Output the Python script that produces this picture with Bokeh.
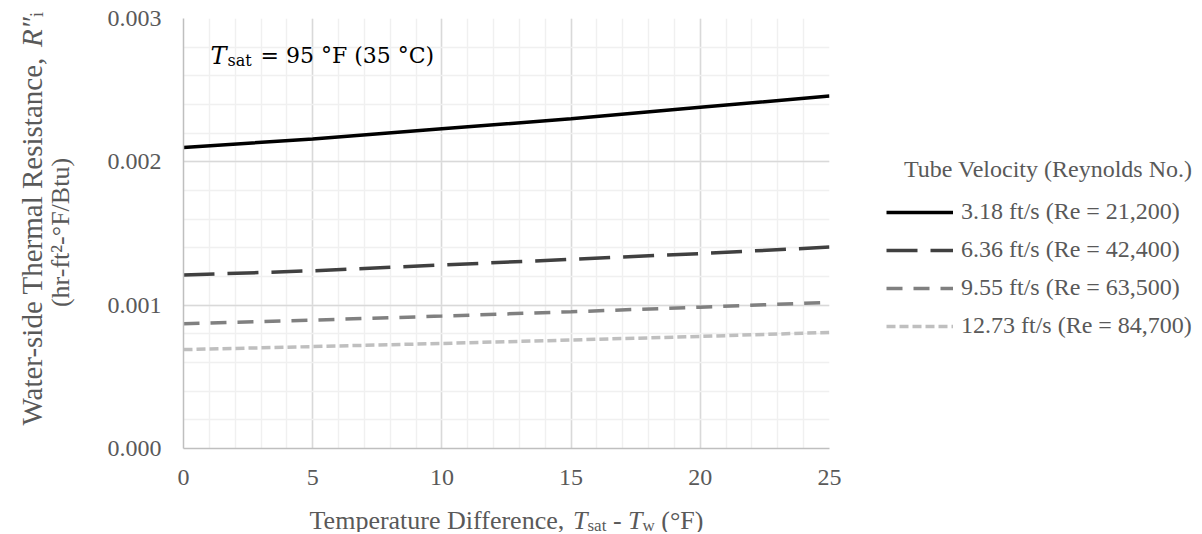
import math
from bokeh.plotting import figure
from bokeh.layouts import row, column
from bokeh.models import (Range1d, FixedTicker, NumeralTickFormatter, Legend,
                          LegendItem, Label)
from bokeh.embed import file_html
from bokeh.resources import INLINE

# ---------------- data ----------------
delta_t = [0, 5, 10, 15, 20, 25]
r_v318 = [0.002100, 0.002160, 0.002230, 0.002300, 0.002380, 0.002460]
r_v636 = [0.001210, 0.001240, 0.001280, 0.001320, 0.001360, 0.001405]
r_v955 = [0.000870, 0.000896, 0.000924, 0.000954, 0.000986, 0.001020]
r_v1273 = [0.000690, 0.000711, 0.000733, 0.000757, 0.000782, 0.000810]
series_names = ["3.18 ft/s (Re = 21,200)", "6.36 ft/s (Re = 42,400)",
                "9.55 ft/s (Re = 63,500)", "12.73 ft/s (Re = 84,700)"]
x_ticks = [0, 5, 10, 15, 20, 25]
y_ticks = [0.0, 0.001, 0.002, 0.003]
legend_title = "Tube Velocity (Reynolds No.)"

# ---------------- layout (page pixels) ----------------
PAGE_W, PAGE_H = 1200, 532
YT_W = 80                  # width of the y-title strip
FL, FR, FT, FB = 183, 829, 18, 448   # plot frame on the page
MAIN_H = 490
FONT = "Liberation Serif"
GREY = "#595959"

p = figure(frame_width=FR - FL, frame_height=FB - FT, x_range=Range1d(0, 25),
           y_range=Range1d(0, 0.003), output_backend="svg",
           toolbar_location=None,
           min_border_left=FL - YT_W, min_border_right=5,
           min_border_top=FT, min_border_bottom=MAIN_H - FB)
p.outline_line_color = None

p.xaxis.ticker = FixedTicker(ticks=x_ticks, minor_ticks=list(range(0, 26)))
p.yaxis.ticker = FixedTicker(ticks=y_ticks,
                             minor_ticks=[i * 0.0002 for i in range(16)])
p.yaxis.formatter = NumeralTickFormatter(format="0.000")
for ax in (p.xaxis, p.yaxis):
    ax.axis_line_color = "#bfbfbf"
    ax.axis_line_width = 1.5
    ax.major_tick_line_color = None
    ax.minor_tick_line_color = None
    ax.major_label_text_font = FONT
    ax.major_label_text_font_size = "24px"
    ax.major_label_text_color = GREY
p.yaxis.major_label_standoff = 16
p.xaxis.major_label_standoff = 15

for g in (p.xgrid, p.ygrid):
    g.grid_line_color = "#d9d9d9"
    g.grid_line_width = 1.5
    g.minor_grid_line_color = "#f0f0f0"
    g.minor_grid_line_width = 1.5

styles = [("black", None), ("#404040", "31 13"), ("#808080", "16 11"),
          ("#bfbfbf", "9 4")]
series = [r_v318, r_v636, r_v955, r_v1273]
items = []
for name, ys, (col, dash) in zip(series_names, series, styles):
    kw = dict(line_color=col, line_width=3.5)
    if dash:
        kw["line_dash"] = dash
    r = p.line(delta_t, ys, **kw)
    items.append(LegendItem(label=name, renderers=[r]))

legend = Legend(items=items, location=(886 - FR, FB - 339),
                title="\u00a0\u00a0\u00a0" + legend_title,
                title_text_font=FONT, title_text_font_size="24px",
                title_text_font_style="normal", title_text_color=GREY,
                title_standoff=15,
                glyph_width=67, glyph_height=26, label_height=26,
                label_standoff=8, spacing=11, padding=0, margin=0,
                border_line_color=None, background_fill_alpha=0,
                label_text_font=FONT, label_text_font_size="24px",
                label_text_color=GREY)
p.add_layout(legend, "right")


def X(px):
    return (px - FL) / (FR - FL) * 25


def Y(py):
    return (FB - py) / (FB - FT) * 0.003


REG = {' ': 250, '(': 333, ')': 333, ',': 250, '-': 333, '.': 250, '/': 278,
       '=': 564, '°': 400, '²': 300, 'A': 722, 'B': 667, 'C': 667, 'D': 722,
       'F': 556, 'N': 722, 'R': 667, 'T': 611, 'V': 722, 'W': 944, 'a': 444,
       'b': 500, 'c': 444, 'd': 500, 'e': 444, 'f': 333, 'h': 500, 'i': 278,
       'l': 278, 'm': 778, 'n': 500, 'o': 500, 'p': 500, 'r': 333, 's': 389,
       't': 278, 'u': 500, 'w': 722, 'y': 500}
for d in "0123456789":
    REG[d] = 500
ITA = {'T': 556, 'R': 611, '″': 420}


def tw(s, size, italic=False):
    tab = ITA if italic else REG
    return sum(tab.get(c, REG.get(c, 500)) for c in s) * size / 1000.0


def lab(fig, x, y, text, size, italic=False, color=GREY, angle=0.0,
        font=FONT, align="left"):
    fig.add_layout(Label(x=x, y=y, text=text, text_font=font,
                         text_font_size=f"{size}px",
                         text_font_style="italic" if italic else "normal",
                         text_color=color, text_align=align,
                         text_baseline="alphabetic", angle=angle))


# annotation inside the plot
ANN = "DejaVu Serif"
lab(p, X(210), Y(55), "T", 24, True, color="black", font=ANN)
lab(p, X(227), Y(60), "sat", 16, False, color="black", font=ANN)
lab(p, X(260), Y(55), "= 95 °F (35 °C)", 22, False, color="black", font=ANN)


def strip(width, height, x0, y0):
    f = figure(width=width, height=height, output_backend="svg",
               toolbar_location=None, x_axis_type=None, y_axis_type=None,
               x_range=Range1d(x0, x0 + width), y_range=Range1d(y0 + height, y0),
               min_border=0, min_border_left=0, min_border_right=0,
               min_border_top=0, min_border_bottom=0)
    f.outline_line_color = None
    f.grid.visible = False
    return f


# x-axis title strip (page coordinates)
xt = strip(PAGE_W - YT_W, PAGE_H - MAIN_H, YT_W, MAIN_H)
S, SS = 26, 17
pieces = [("Temperature Difference,", S, False, 0), (" ", S, False, None),
          ("T", S, True, 0), ("sat", SS, False, 5), (" ", S, False, None),
          ("-", S, False, 0), (" ", S, False, None), ("T", S, True, 0),
          ("w", SS, False, 5), (" ", S, False, None), ("(°F)", S, False, 0)]
total = sum(tw(t, s, i) for t, s, i, _ in pieces)
cx = (FL + FR) / 2 - total / 2
for t, s, i, dy in pieces:
    if dy is not None:
        lab(xt, cx, 520 + dy, t, s, i)
    cx += tw(t, s, i)

# y-axis title strip (page coordinates)
yt = strip(YT_W, PAGE_H, 0, 0)
S1, S2 = 29, 26
pieces_y = [("Water-side Thermal Resistance,", S1, False, 0),
            (" ", S1, False, None), ("R″", S1, True, 0), ("i", 18, False, 5)]
cy = 425
for t, s, i, dx in pieces_y:
    if dx is not None:
        lab(yt, 31 + dx, cy, t, s, i, angle=math.pi / 2)
    cy -= tw(t, s, i)
lab(yt, 60, 232, "(hr-ft²-°F/Btu)", S2, angle=math.pi / 2, align="center")

layout = row(yt, column(p, column(xt)))
open("out.html", "w").write(file_html(layout, INLINE))
